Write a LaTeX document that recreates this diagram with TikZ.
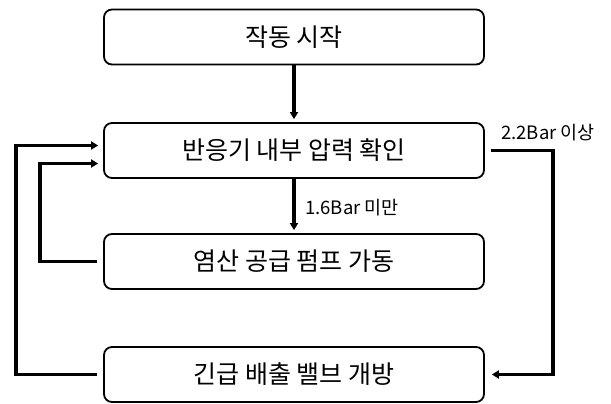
\documentclass[tikz,border=0pt]{standalone}
\usepackage{fontspec}
\newfontfamily\kr{Noto Sans CJK KR}
\usetikzlibrary{arrows.meta}
\begin{document}
\begin{tikzpicture}[x=1pt,y=-1pt,
 box/.style={draw, line width=1.8pt, rounded corners=8pt, minimum width=380pt, minimum height=55pt, inner sep=0pt, font=\kr\fontsize{25}{29}\selectfont},
 conn/.style={line width=3.5pt, -{Triangle[length=7pt,width=8pt]}},
 lbl/.style={font=\kr\fontsize{18.5}{22}\selectfont, inner sep=0pt}]
\useasboundingbox (0,0) rectangle (611,404);
\node[box] (b1) at (294,37) {작동 시작};
\node[box] (b2) at (294,150.5) {반응기 내부 압력 확인};
\node[box] (b3) at (294,261.5) {염산 공급 펌프 가동};
\node[box] (b4) at (294,374.5) {긴급 배출 밸브 개방};
\draw[conn, shorten >=3pt] (b1) -- (b2);
\draw[conn, shorten >=3pt] (b2) -- (b3);
\draw[conn, shorten <=6pt, shorten >=5pt] (b4.west) -- ++(-87,0) |- ([yshift=5pt]b2.west);
\draw[conn, shorten <=6pt, shorten >=5pt] (b3.west) -- ++(-63,0) |- ([yshift=-13pt]b2.west);
\draw[conn, shorten <=6pt, shorten >=7pt] (b2.east) -- ++(68,0) |- (b4.east);
\node[lbl, anchor=west] (l1) at (501,133) {2.2Bar 이상};
\node[lbl, anchor=west] (l2) at (305,208) {1.6Bar 미만};
\end{tikzpicture}
\end{document}
